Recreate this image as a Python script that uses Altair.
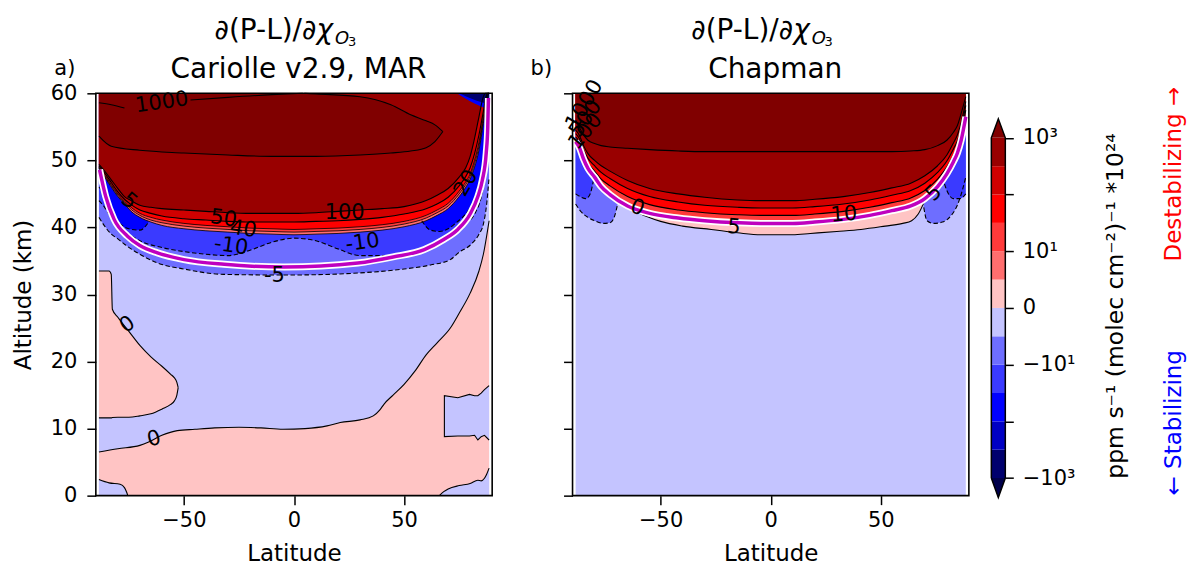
import altair as alt
import pandas as pd

FONT = "DejaVu Sans"
PW, PH = 397, 403
GAP_EXTRA = 57.5
EDGE_LAT = [-88.6, 88.6]

LB, PK = "#c4c4ff", "#ffc4c4"
B1, B2, B3, NAVY = "#6e6eff", "#3a3aff", "#0000ff", "#00006e"
R1, R2, R3, R4, R5, R6 = "#ff6e6e", "#ff3a3a", "#ff0000", "#d00000", "#990000", "#800000"
MAG = "#bf00bf"

# ---------------- panel a : boundary curves (lat, altitude km) ----------------
A0_LAT = [-88.6, -80, -70, -66, -60, -53, -45, -36, -25, -15, -5, 5, 15, 21, 30, 36, 39, 41, 45, 50,
          55, 60, 65, 71, 75, 80, 84, 86, 88.6]
A0_ALT = [6.5, 7.0, 7.5, 8.0, 9.0, 9.7, 9.9, 10.1, 10.2, 10.1, 9.9, 10.0, 10.4, 10.9, 11.3, 11.9, 12.8, 13.7, 15.0, 16.6,
          18.6, 21.0, 22.8, 25.0, 27.2, 30.2, 33.5, 36.0, 41.0]

ABL_LAT = [-88.6, -84, -79, -77, -76, -75.5]
ABL_ALT = [2.4, 1.9, 1.7, 1.2, 0.5, 0.0]
ABR_LAT = [66, 68, 70, 75, 80, 83.5, 85, 86.5, 87.5, 88.6]
ABR_ALT = [0.0, 0.6, 1.0, 1.5, 1.8, 2.3, 2.2, 2.6, 3.2, 4.1]

ARR_LAT = [68.3, 74.4, 79.7, 82, 83.5, 85, 86.5, 88.6]
ARR_LO = [8.8, 8.9, 8.9, 9.0, 8.3, 8.8, 9.0, 8.3]
ARR_HI = [14.9, 14.6, 15.1, 14.9, 14.9, 15.3, 15.8, 16.4]

ALL_LAT = [-88.6, -84, -83, -82.5, -80, -75, -70, -65, -60, -56, -54.4, -53.2, -52.6]
ALL_LO = [11.6, 11.6, 11.6, 11.65, 11.7, 11.7, 11.9, 12.2, 12.9, 13.6, 14.1, 15.0, 16.1]
ALL_HI = [33.5, 33.5, 33.0, 27.8, 26.6, 24.5, 22.4, 20.7, 19.3, 18.1, 17.6, 16.9, 16.1]

AM5_LAT = [-88.6, -86, -83, -80, -77, -70, -62, -50, -32, -5, 10, 29, 50, 62, 71, 75, 80.5, 84, 86, 87.5, 88.6]
AM5_ALT = [41.5, 40.2, 39.0, 38.3, 37.5, 36.0, 34.7, 33.8, 33.0, 32.9, 32.95, 33.2, 33.8, 34.4, 35.2, 36.3, 37.5,
           39.0, 40.5, 43.5, 47.5]

AM10_LAT = [-88.6, -86, -84, -80, -75, -70, -60, -50, -40, -30, -20, -10, 0, 10, 20, 30, 40, 50, 60, 68,
            74, 78, 82, 85, 87, 88.6]
AM10_ALT = [44.0, 43.0, 42.0, 40.3, 39.0, 38.0, 37.0, 36.4, 36.0, 35.8, 36.6, 37.8, 38.4, 38.0, 36.8, 35.8, 35.8,
            36.2, 37.0, 38.3, 39.5, 40.5, 42.0, 44.5, 48.0, 52.0]

ABL2_LAT = [-88.6, -86, -83, -80, -75, -70, -66]
ABL2_LO = [46.0, 45.0, 43.0, 41.0, 39.8, 39.6, 40.8]
ABR2_LAT = [58, 62, 66, 70, 74, 78, 82, 85, 87, 88.6]
ABR2_LO = [41.0, 39.6, 39.4, 39.8, 40.8, 42.0, 44.0, 46.0, 48.0, 52.0]

LAT_R = [-88.6, -86, -83, -80, -77, -74, -70, -65, -60, -50, -40, -30, -20, -10, 0, 10, 20, 30, 40, 50,
         60, 65, 70, 75, 78, 80, 82, 84, 86, 87, 88, 88.6]
AX = [48.8, 47.5, 46.0, 44.6, 43.5, 42.4, 41.5, 40.8, 40.3, 39.8, 39.5, 39.3, 39.1, 39.0, 38.9, 39.0, 39.1, 39.3,
      39.6, 40.1, 41.0, 41.8, 42.8, 44.6, 46.0, 47.2, 49.0, 51.5, 55.5, 57.5, 59.5, 60.0]
AXB = [48.9, 47.6, 46.2, 44.8, 43.7, 42.7, 41.8, 41.1, 40.7, 40.2, 39.9, 39.7, 39.5, 39.4, 39.3, 39.4, 39.5, 39.7,
       40.0, 40.5, 41.4, 42.2, 43.2, 45.0, 46.4, 47.6, 49.5, 52.1, 56.0, 58.0, 59.8, 60.0]
AXC = [49.0, 47.8, 46.4, 45.0, 43.9, 43.0, 42.1, 41.5, 41.1, 40.6, 40.3, 40.1, 39.9, 39.8, 39.7, 39.8, 39.9, 40.1,
       40.4, 40.9, 41.8, 42.6, 43.6, 45.4, 46.8, 48.0, 50.0, 52.7, 56.5, 58.5, 60.0, 60.0]
AL50 = [49.2, 48.1, 46.7, 45.3, 44.2, 43.4, 42.6, 42.1, 41.7, 41.3, 41.1, 40.9, 40.8, 40.8, 40.8, 40.9, 41.0, 41.2,
        41.5, 42.0, 42.8, 43.5, 44.5, 46.2, 47.6, 48.9, 51.0, 53.8, 57.3, 59.2, 60.0, 60.0]
AL100 = [49.4, 48.4, 47.1, 45.8, 44.6, 44.0, 43.3, 43.0, 42.8, 42.6, 42.4, 42.2, 42.1, 42.1, 42.1, 42.2, 42.4, 42.6,
         42.8, 43.1, 44.0, 44.8, 45.8, 47.5, 48.9, 50.6, 53.3, 56.5, 59.5, 60.0, 60.0, 60.0]

AT_LAT = [-88.6, -83, -70, -50, -30, -10, 4.7, 10, 30, 44, 53, 60, 64, 67.6]
AT_LO = [53.6, 52.1, 51.5, 51.1, 50.8, 50.6, 50.6, 50.6, 50.8, 51.1, 51.4, 51.9, 52.8, 54.3]
AT_HI = [60, 60, 60, 60, 60, 60, 60, 59.9, 59.5, 58.3, 56.8, 55.9, 55.3, 54.3]

A1000A_LAT = [-88.6, -83, -77]
A1000A_ALT = [58.6, 58.3, 57.8]
A1000B_LAT = [-47, -30, -10, 4]
A1000B_ALT = [59.0, 59.4, 59.8, 60.0]

ANB_LAT = [74, 78, 82, 86, 88.6]
ANB_LO = [60, 59.2, 58.5, 57.9, 57.5]
ANV_LAT = [75, 79, 83, 86, 88.6]
ANV_LO = [60, 59.4, 58.9, 58.6, 58.4]

AMG_LAT = [-88.3, -85.5, -81.7, -75.6, -70, -62, -50, -31.7, -4.5, 29, 45, 59.2, 68, 74.4, 80, 83.5, 85.5,
           87.3, 88.0, 88.3]
AMG_ALT = [48.6, 44.6, 41.2, 38.7, 37.3, 36.2, 35.2, 34.5, 34.1, 34.7, 35.6, 36.7, 38.2, 39.7, 42.0, 44.6, 47.0,
           51.1, 55.0, 59.3]

A_LAB_TXT = ["1000", "5", "50", "40", "100", "-10", "-10", "20", "-5", "0", "0"]
A_LAB_LAT = [-60, -75, -32, -23, 23, -28.6, 31.2, 78.2, -8.9, -75.6, -63.5]
A_LAB_ALT = [58.6, 43.9, 41.3, 39.7, 42.2, 37.2, 37.7, 46.6, 32.8, 25.5, 8.4]
A_LAB_ANG = [352, 40, 8, 8, 0, 8, 352, 300, 0, 325, 345]

# ---------------- panel b ----------------
BLM_LAT = [-88.6, -86, -83, -80, -76, -73, -71, -69.5]
BLM_LO = [43.5, 42.3, 41.5, 41.0, 40.6, 40.7, 41.6, 43.5]
BLD_LAT = [-88.6, -86, -84, -82, -80.5]
BLD_LO = [45.0, 44.5, 44.3, 45.0, 47.0]
BRM_LAT = [69.5, 71, 74, 78, 82, 85, 87, 88.6]
BRM_LO = [43.0, 41.0, 40.6, 40.8, 41.8, 43.5, 45.5, 47.5]
BRD_LAT = [78, 80, 83, 86, 88.6]
BRD_LO = [47.5, 45.5, 44.3, 44.3, 45.0]

BP_LAT = [-70, -66, -62, -56, -50, -40, -27, -15, -4.5, 10, 18, 30, 41, 52, 60, 64, 67, 70]
BP_LO = [44.5, 43.3, 42.5, 41.6, 40.9, 40.2, 39.7, 39.2, 38.9, 38.9, 39.1, 39.4, 39.7, 40.2, 40.6, 41.0, 42.0, 44.0]

BR_LAT = [-88.6, -87, -85, -83, -80, -77, -73, -65, -55, -42, -30, -15, -4.5, 10, 20, 33, 45, 55, 63.6, 70,
          75.8, 80, 83, 84.8, 86.5, 88.6]
BM = [52.8, 52.0, 50.2, 48.8, 47.5, 46.1, 44.9, 43.2, 42.1, 41.4, 41.0, 40.7, 40.6, 40.6, 40.8, 41.2, 41.8, 42.5,
      43.2, 44.3, 46.1, 48.0, 49.8, 51.1, 53.0, 56.5]
BA = [53.5, 52.8, 51.0, 49.6, 48.4, 47.2, 46.2, 44.6, 43.4, 42.6, 42.2, 41.9, 41.8, 41.8, 42.0, 42.4, 43.0, 43.7,
      44.4, 45.5, 47.2, 49.0, 50.8, 52.0, 54.0, 57.5]
BB = [54.0, 53.3, 51.6, 50.3, 49.2, 48.2, 47.3, 45.8, 44.6, 43.8, 43.3, 43.0, 42.9, 42.9, 43.1, 43.5, 44.1, 44.8,
      45.5, 46.6, 48.2, 49.9, 51.7, 52.9, 54.8, 58.2]
BC = [54.5, 53.8, 52.2, 51.0, 50.0, 49.2, 48.4, 47.0, 45.8, 45.0, 44.5, 44.1, 44.0, 44.0, 44.2, 44.6, 45.2, 45.9,
      46.6, 47.7, 49.2, 50.8, 52.6, 53.8, 55.6, 58.8]
BT = [56.0, 55.0, 53.8, 53.0, 52.5, 52.2, 52.0, 51.8, 51.6, 51.4, 51.3, 51.3, 51.3, 51.3, 51.3, 51.3, 51.3, 51.3,
      51.4, 51.6, 52.2, 53.0, 54.2, 55.2, 57.0, 59.5]

B_LAB_TXT = ["0", "5", "10", "5", "1000", "500", "100"]
B_LAB_LAT = [-60.6, -16.7, 33.3, 74.2, -84.5, -84.0, -84.0]
B_LAB_ALT = [42.9, 40.0, 41.9, 45.1, 58.3, 56.2, 54.3]
B_LAB_ANG = [20, 5, 355, 315, 300, 305, 310]

# ---------------- colour bar ----------------
CB_LO = [-6, -5, -4, -3, -2, -1, 0, 1, 2, 3, 4, 5]
CB_HI = [-5, -4, -3, -2, -1, 0, 1, 2, 3, 4, 5, 6]
CB_COL = ["#00006e", "#0000c4", "#0000ff", "#3a3aff", "#6e6eff", "#c4c4ff",
          "#ffc4c4", "#ff6e6e", "#ff3a3a", "#ff0000", "#d00000", "#990000"]
CB_TICKS = [-6, -4, -2, 0, 2, 4, 6]
CB_TICK_TXT = ["\u221210\u00b3", "", "\u221210\u00b9", "0", "10\u00b9", "", "10\u00b3"]
CB_TRI_X = [0, 0.5, 1]
CB_TOP_Y = [6, 6.67, 6]
CB_BOT_Y = [-6, -6.69, -6]
CB_OUT_X = [0, 0, 0.5, 1, 1, 0.5, 0]
CB_OUT_Y = [-6, 6, 6.67, 6, -6, -6.69, -6]

NEG = "\u2212"
ONE = pd.DataFrame({"k": [0]})
XSC = alt.Scale(domain=[-90, 90], range=[0, PW], nice=False, zero=False)
YSC = alt.Scale(domain=[0, 60], nice=False, zero=False)


def X():
    return alt.X("lat:Q", scale=XSC,
                 axis=alt.Axis(values=[-50, 0, 50], title="Latitude", labelFlush=False,
                               labelExpr=f"datum.value < 0 ? '{NEG}' + abs(datum.value) : datum.label"))


def Y(show):
    if show:
        ax = alt.Axis(values=[0, 10, 20, 30, 40, 50, 60], title="Altitude (km)", labelFlush=False)
    else:
        ax = alt.Axis(values=[0, 10, 20, 30, 40, 50, 60], title="", labels=False)
    return alt.Y("lo:Q", scale=YSC, axis=ax)


def area(show, lats, lo, hi, color):
    n = len(lats)
    lo = lo if isinstance(lo, list) else [lo] * n
    hi = hi if isinstance(hi, list) else [hi] * n
    df = pd.DataFrame({"lat": lats, "lo": lo, "hi": hi})
    return alt.Chart(df).mark_area(color=color, interpolate="monotone").encode(
        x=X(), y=Y(show), y2="hi:Q")


def line(show, lats, vals, dash=False, color="black", width=1.1, ordered=False, interp="monotone"):
    df = pd.DataFrame({"lat": lats, "lo": vals, "i": list(range(len(lats)))})
    kw = {}
    if dash:
        kw["strokeDash"] = [4.5, 2.5]
    m = alt.Chart(df).mark_line(color=color, strokeWidth=width, interpolate=interp, **kw)
    enc = dict(x=X(), y=Y(show))
    if ordered:
        enc["order"] = alt.Order("i:Q")
    return m.encode(**enc)


def labels(show, txt, lats, alts, angs, size=21):
    df = pd.DataFrame({"lat": lats, "lo": alts, "t": txt, "a": angs})
    return alt.Chart(df).mark_text(font=FONT, fontSize=size, color="black", align="center",
                                   baseline="middle").encode(
        x=X(), y=Y(show), text="t:N", angle=alt.Angle("a:Q", scale=None))


def ptext(txt, x, y, size, align="center", baseline="alphabetic", angle=0, color="black", style="normal"):
    return alt.Chart(ONE).mark_text(text=txt, font=FONT, fontSize=size, align=align, baseline=baseline,
                                    angle=angle, color=color, fontStyle=style).encode(
        x=alt.value(x), y=alt.value(y))


def frame():
    return alt.Chart(ONE).mark_rect(fill="transparent", stroke="black", strokeWidth=1.6).encode(
        x=alt.value(0), x2=alt.value(PW), y=alt.value(0), y2=alt.value(PH))


def titles(letter, line2):
    return [
        ptext("\u2202(P-L)/\u2202", 221, -54, 28, align="right"),
        ptext("\u03c7", 221, -54, 28, align="left", style="italic"),
        ptext("O", 239.5, -49, 18, align="left", style="italic"),
        ptext("3", 252.5, -47.5, 13, align="left"),
        ptext(line2, 203, -15, 28),
        ptext(letter, -20.5, -18, 21, align="right"),
    ]


# ---------------- panel a ----------------
la = [
    area(True, EDGE_LAT, 0, 60, LB),
    area(True, A0_LAT, 0, A0_ALT, PK),
    area(True, ABL_LAT, 0, ABL_ALT, LB),
    area(True, ABR_LAT, 0, ABR_ALT, LB),
    area(True, ARR_LAT, ARR_LO, ARR_HI, LB),
    area(True, ALL_LAT, ALL_LO, ALL_HI, PK),
    area(True, AM5_LAT, AM5_ALT, 60, B1),
    area(True, AM10_LAT, AM10_ALT, 60, B2),
    area(True, ABL2_LAT, ABL2_LO, 60, B3),
    area(True, ABR2_LAT, ABR2_LO, 60, B3),
    area(True, LAT_R, AX, 60, R1),
    area(True, LAT_R, AXB, 60, R2),
    area(True, LAT_R, AXC, 60, R3),
    area(True, LAT_R, AL50, 60, R4),
    area(True, LAT_R, AL100, 60, R5),
    area(True, AT_LAT, AT_LO, AT_HI, R6),
    area(True, ANB_LAT, ANB_LO, 60, B3),
    area(True, ANV_LAT, ANV_LO, 60, NAVY),
    # contour lines
    line(True, A0_LAT, A0_ALT),
    line(True, ABL_LAT, ABL_ALT),
    line(True, ABR_LAT, ABR_ALT),
    line(True, ARR_LAT[::-1] + ARR_LAT, ARR_HI[::-1] + ARR_LO, ordered=True, interp="linear"),
    line(True, ALL_LAT, ALL_LO),
    line(True, ALL_LAT, ALL_HI),
    line(True, AM5_LAT, AM5_ALT, dash=True),
    line(True, AM10_LAT, AM10_ALT, dash=True),
    line(True, ABL2_LAT, ABL2_LO, dash=True),
    line(True, ABR2_LAT, ABR2_LO, dash=True),
    line(True, LAT_R, AX, width=0.8),
    line(True, LAT_R, AXB, width=0.8),
    line(True, LAT_R, AXC, width=0.8),
    line(True, LAT_R, AL50),
    line(True, LAT_R, AL100),
    line(True, AT_LAT, AT_LO),
    line(True, AT_LAT[6:], AT_HI[6:]),
    line(True, A1000A_LAT, A1000A_ALT),
    line(True, A1000B_LAT, A1000B_ALT),
    line(True, AMG_LAT, AMG_ALT, color="white", width=7),
    line(True, AMG_LAT, AMG_ALT, color=MAG, width=3.5),
    labels(True, A_LAB_TXT, A_LAB_LAT, A_LAB_ALT, A_LAB_ANG),
    frame(),
] + titles("a)", "Cariolle v2.9, MAR") + [
    alt.Chart(ONE).mark_rect(color="white").encode(
        x=alt.value(-95.5), x2=alt.value(-94.5), y=alt.value(-92), y2=alt.value(-91.5)),
]
panel_a = alt.layer(*la).properties(width=PW + GAP_EXTRA, height=PH)

# ---------------- panel b ----------------
lb = [
    area(False, EDGE_LAT, 0, 60, LB),
    area(False, BLM_LAT, BLM_LO, 60, B1),
    area(False, BLD_LAT, BLD_LO, 60, B2),
    area(False, BRM_LAT, BRM_LO, 60, B1),
    area(False, BRD_LAT, BRD_LO, 60, B2),
    area(False, BP_LAT, BP_LO, 60, PK),
    area(False, BR_LAT, BM, 60, R2),
    area(False, BR_LAT, BA, 60, R3),
    area(False, BR_LAT, BB, 60, R4),
    area(False, BR_LAT, BC, 60, R5),
    area(False, BR_LAT, BT, 60, R6),
    line(False, BLM_LAT, BLM_LO, dash=True),
    line(False, BLD_LAT, BLD_LO, dash=True),
    line(False, BRM_LAT, BRM_LO, dash=True),
    line(False, BRD_LAT, BRD_LO, dash=True),
    line(False, BP_LAT, BP_LO),
    line(False, BR_LAT, BA),
    line(False, BR_LAT, BB),
    line(False, BR_LAT, BC),
    line(False, BR_LAT, BT),
    line(False, BR_LAT, BM, color="white", width=7),
    line(False, BR_LAT, BM, color=MAG, width=3.5),
    labels(False, B_LAB_TXT, B_LAB_LAT, B_LAB_ALT, B_LAB_ANG),
    frame(),
] + titles("b)", "Chapman")
panel_b = alt.layer(*lb).properties(width=PW, height=PH)

# ---------------- colour bar ----------------
CBX = alt.Scale(domain=[0, 1], nice=False, zero=False)
CBY = alt.Scale(domain=[-6.62, 7.57], nice=False, zero=False)
expr = "''"
for v, t in zip(CB_TICKS, CB_TICK_TXT):
    expr = f"datum.value == {v} ? '{t}' : ({expr})"

cb_df = pd.DataFrame({"x0": [0] * 12, "x1": [1] * 12, "lo": CB_LO, "hi": CB_HI, "col": CB_COL})
cb_bands = alt.Chart(cb_df).mark_rect().encode(
    x=alt.X("x0:Q", scale=CBX, axis=None), x2="x1:Q",
    y=alt.Y("lo:Q", scale=CBY, axis=alt.Axis(orient="right", values=CB_TICKS, labelExpr=expr, title="",
                                             tickSize=8, labelPadding=9, labelFlush=False)),
    y2="hi:Q", color=alt.Color("col:N", scale=None))


def tri(ys, color):
    df = pd.DataFrame({"x0": CB_TRI_X, "lo": ys, "hi": [ys[0]] * 3})
    return alt.Chart(df).mark_area(color=color).encode(
        x=alt.X("x0:Q", scale=CBX, axis=None), y=alt.Y("lo:Q", scale=CBY), y2="hi:Q")


out_df = pd.DataFrame({"x0": CB_OUT_X, "lo": CB_OUT_Y, "i": list(range(len(CB_OUT_X)))})
cb_out = alt.Chart(out_df).mark_line(color="black", strokeWidth=1.5).encode(
    x=alt.X("x0:Q", scale=CBX, axis=None), y=alt.Y("lo:Q", scale=CBY), order="i:Q")

cbar = alt.layer(
    cb_bands, tri(CB_TOP_Y, "#800000"), tri(CB_BOT_Y, "#00004c"), cb_out,
    ptext("ppm s\u207b\u00b9 (molec cm\u207b\u00b2)\u207b\u00b9 *10\u00b2\u2074", 125, 213, 23.5,
          baseline="middle", angle=270),
    ptext("Destabilizing \u2192", 183, 81, 23, baseline="middle", angle=270, color="#ff0000"),
    ptext("\u2190 Stabilizing", 183, 330, 23, baseline="middle", angle=270, color="#0000ff"),
    alt.Chart(ONE).mark_rect(color="white").encode(
        x=alt.value(198), x2=alt.value(199), y=alt.value(474.5), y2=alt.value(475)),
).properties(width=14, height=PH)

chart = alt.hconcat(panel_a, panel_b, cbar, spacing=22.5, bounds="flush").properties(
    padding={"left": 0, "top": 0, "right": 0, "bottom": 0}
).configure(font=FONT).configure_view(stroke="transparent").configure_axis(
    labelFont=FONT, labelFontSize=21, labelColor="black", titleFont=FONT, titleFontSize=23,
    titleFontWeight="normal", titleColor="black", tickColor="black", tickWidth=1.5, tickSize=9,
    domain=False, grid=False
).configure_axisLeft(labelPadding=10, titlePadding=15).configure_axisBottom(labelPadding=5, titlePadding=12)

chart.save("out.html", embed_options={"renderer": "svg", "actions": False})
